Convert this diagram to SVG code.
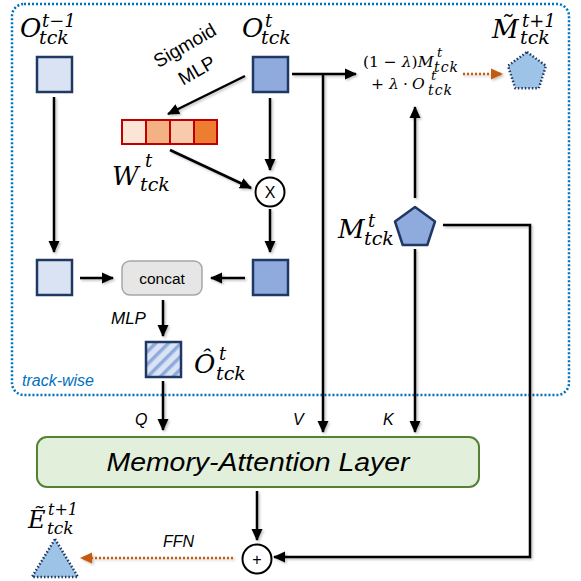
<svg xmlns="http://www.w3.org/2000/svg" width="581" height="581" viewBox="0 0 581 581">
<style>
.m{font-family:"DejaVu Serif","Liberation Serif",serif;font-style:italic;fill:#000}
.u{font-family:"DejaVu Serif","Liberation Serif",serif;font-style:normal;fill:#000}
.s{font-family:"Liberation Sans","Noto Sans",sans-serif;fill:#000}
.i{font-style:italic}
.ln{stroke:#000;stroke-width:2.5;fill:none}
.or{stroke:#C55A11;stroke-width:2.5;fill:none;stroke-dasharray:2 2}
.bx{stroke:#203864;stroke-width:2.5}
</style>
<defs>
<marker id="ah" markerUnits="userSpaceOnUse" markerWidth="14" markerHeight="14" refX="11" refY="7" orient="auto"><path d="M0,1.5 L12,7 L0,12.5 z" fill="#000"/></marker>
<marker id="ao" markerUnits="userSpaceOnUse" markerWidth="14" markerHeight="14" refX="11" refY="7" orient="auto"><path d="M0,1.5 L12,7 L0,12.5 z" fill="#C55A11"/></marker>
<pattern id="hatch" patternUnits="userSpaceOnUse" width="9" height="9" patternTransform="rotate(45)"><rect width="9" height="9" fill="#DAE3F3"/><rect x="0" y="0" width="3.5" height="9" fill="#8FAADC"/></pattern>
<filter id="sh" x="-20%" y="-20%" width="140%" height="140%"><feDropShadow dx="1.5" dy="1.5" stdDeviation="1.2" flood-color="#000" flood-opacity="0.25"/></filter>
</defs>

<g id="trackwise">
<rect x="12" y="4" width="557" height="391" rx="12" fill="none" stroke="#0070C0" stroke-width="2.5" stroke-dasharray="2 2"/>
<text class="s i" x="22" y="386" font-size="16" style="fill:#0070C0">track-wise</text>
</g>

<g id="connectors" filter="url(#sh)">
<line class="ln" x1="54" y1="97" x2="54" y2="252" marker-end="url(#ah)"/>
<line class="ln" x1="80" y1="278" x2="113" y2="278" marker-end="url(#ah)"/>
<line class="ln" x1="245" y1="278" x2="211" y2="278" marker-end="url(#ah)"/>
<line class="ln" x1="245" y1="76" x2="168" y2="114" marker-end="url(#ah)"/>
<line class="ln" x1="170" y1="150" x2="251" y2="188" marker-end="url(#ah)"/>
<line class="ln" x1="270" y1="98" x2="270" y2="170" marker-end="url(#ah)"/>
<line class="ln" x1="270" y1="209" x2="270" y2="252" marker-end="url(#ah)"/>
<line class="ln" x1="163" y1="300" x2="163" y2="336" marker-end="url(#ah)"/>
<line class="ln" x1="163" y1="381" x2="163" y2="430" marker-end="url(#ah)"/>
<polyline class="ln" points="292,74 356,74" marker-end="url(#ah)"/>
<line class="ln" x1="323" y1="74" x2="323" y2="432" marker-end="url(#ah)"/>
<line class="ln" x1="415" y1="198" x2="415" y2="107" marker-end="url(#ah)"/>
<line class="ln" x1="415" y1="249" x2="415" y2="432" marker-end="url(#ah)"/>
<polyline class="ln" points="443,225 530,225 530,557 274,557" marker-end="url(#ah)"/>
<line class="ln" x1="257" y1="491" x2="257" y2="540" marker-end="url(#ah)"/>
<line class="or" x1="463" y1="74" x2="502" y2="74" marker-end="url(#ao)"/>
<line class="or" x1="233" y1="558" x2="81" y2="558" marker-end="url(#ao)"/>
</g>

<g id="edge-labels">
<text class="s" font-size="19" transform="translate(188,51) rotate(-30)" text-anchor="middle">Sigmoid</text>
<text class="s" font-size="19" transform="translate(200,76) rotate(-30)" text-anchor="middle">MLP</text>
<text class="s i" x="111" y="324" font-size="17">MLP</text>
<text class="s i" x="135" y="425" font-size="16">Q</text>
<text class="s i" x="293" y="425" font-size="16">V</text>
<text class="s i" x="383" y="425" font-size="16">K</text>
<text class="s i" x="163" y="547" font-size="16">FFN</text>
</g>

<g id="O_prev">
<rect class="bx" x="37" y="57" width="35" height="35" fill="#DAE3F3"/>
<text class="m" font-size="26"><tspan x="20" y="37">O</tspan><tspan x="42" y="27" font-size="18">t−1</tspan><tspan x="39" y="44" font-size="19">tck</tspan></text>
</g>

<g id="O_t">
<rect class="bx" x="253" y="57" width="35" height="35" fill="#8FAADC"/>
<text class="m" font-size="26"><tspan x="242" y="37">O</tspan><tspan x="265" y="27" font-size="18">t</tspan><tspan x="261" y="44" font-size="19">tck</tspan></text>
</g>

<g id="W">
<rect x="122" y="120" width="24" height="24" fill="#FBE5D6" stroke="#C00000" stroke-width="2"/>
<rect x="146" y="120" width="24" height="24" fill="#F4B183" stroke="#C00000" stroke-width="2"/>
<rect x="170" y="120" width="24" height="24" fill="#F8CBAD" stroke="#C00000" stroke-width="2"/>
<rect x="194" y="120" width="23" height="24" fill="#ED7D31" stroke="#C00000" stroke-width="2"/>
<text class="m" font-size="26"><tspan x="112" y="185">W</tspan><tspan x="145" y="167" font-size="18">t</tspan><tspan x="140" y="191" font-size="19">tck</tspan></text>
</g>

<g id="mult">
<circle cx="270" cy="192" r="14.5" fill="#fff" stroke="#000" stroke-width="2"/>
<text class="s" x="270" y="198" font-size="16" text-anchor="middle">X</text>
</g>

<g id="O_prev2">
<rect class="bx" x="37" y="260" width="35" height="35" fill="#DAE3F3"/>
</g>

<g id="O_t2">
<rect class="bx" x="253" y="260" width="35" height="35" fill="#8FAADC"/>
</g>

<g id="concat">
<rect x="122" y="261" width="80" height="34" rx="8" fill="#E7E6E6" stroke="#A6A6A6" stroke-width="1.5"/>
<text class="s" x="162" y="284" font-size="15.5" text-anchor="middle">concat</text>
</g>

<g id="O_hat">
<rect class="bx" x="146" y="342" width="35" height="35" fill="url(#hatch)"/>
<text class="m" font-size="26"><tspan x="194" y="373">Ô</tspan><tspan x="219" y="360" font-size="18">t</tspan><tspan x="216" y="380" font-size="19">tck</tspan></text>
</g>

<g id="M_t">
<polygon points="415,207 435,221.5 427.3,245 402.7,245 395,221.5" fill="#8FAADC" stroke="#203864" stroke-width="2.5" stroke-linejoin="round"/>
<text class="m" font-size="26"><tspan x="338" y="238">M</tspan><tspan x="368" y="227" font-size="18">t</tspan><tspan x="364" y="245" font-size="19">tck</tspan></text>
</g>

<g id="update">
<text class="u" font-size="15.5"><tspan x="363" y="67">(1 − </tspan><tspan class="m">λ</tspan><tspan>)</tspan><tspan class="m">M</tspan><tspan class="m" x="437" y="57" font-size="13">t</tspan><tspan class="m" x="434" y="72" font-size="14" textLength="24">tck</tspan></text>
<text class="u" font-size="15.5"><tspan x="371" y="89">+</tspan><tspan class="m" x="389">λ</tspan><tspan x="403">·</tspan><tspan class="m" x="412">O</tspan><tspan class="m" x="431" y="80" font-size="13">t</tspan><tspan class="m" x="428" y="95" font-size="14" textLength="24">tck</tspan></text>
</g>

<g id="M_next">
<polygon points="527,52 546,65.8 538.8,88.2 515.2,88.2 508,65.8" fill="#9DC3E6" stroke="#203864" stroke-width="2.5" stroke-dasharray="1.5 2" stroke-linejoin="round"/>
<text class="m" font-size="26"><tspan x="492" y="38">M̃</tspan><tspan x="522" y="27" font-size="18">t+1</tspan><tspan x="520" y="44" font-size="19">tck</tspan></text>
</g>

<g id="mem_attn">
<rect x="37" y="437" width="442" height="50" rx="10" fill="#E2EFDA" stroke="#548235" stroke-width="2"/>
<text class="s i" x="258" y="471" font-size="26" text-anchor="middle" textLength="303" lengthAdjust="spacingAndGlyphs">Memory-Attention Layer</text>
</g>

<g id="plus">
<circle cx="257" cy="559" r="14.5" fill="#fff" stroke="#000" stroke-width="2"/>
<text class="s" x="257" y="565" font-size="16" text-anchor="middle">+</text>
</g>

<g id="E_next">
<polygon points="55,539 78,577 32,577" fill="#9DC3E6" stroke="#203864" stroke-width="2.5" stroke-dasharray="1.5 2" stroke-linejoin="round"/>
<text class="m" font-size="24"><tspan x="28" y="528">Ẽ</tspan><tspan x="48" y="515" font-size="16">t+1</tspan><tspan x="47" y="534" font-size="17">tck</tspan></text>
</g>
</svg>
